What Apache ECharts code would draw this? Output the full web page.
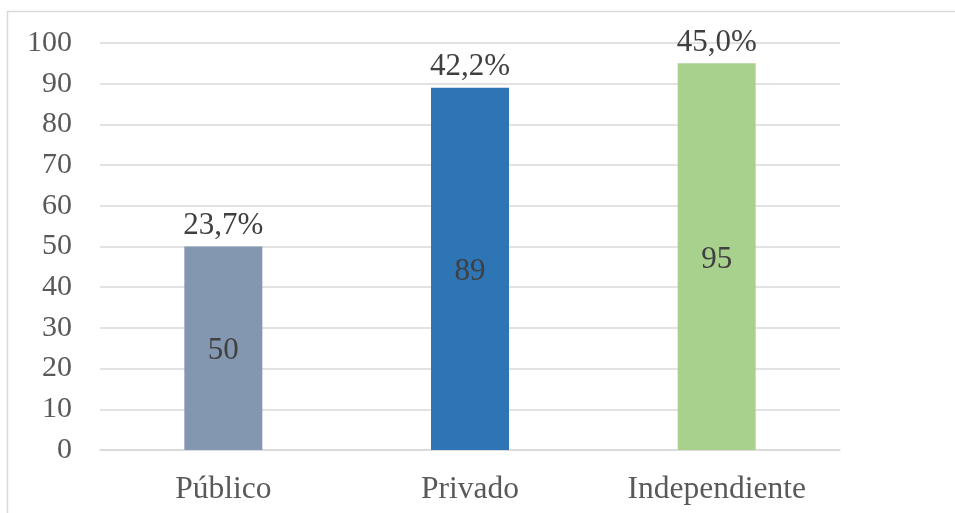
<!DOCTYPE html>
<html>
<head>
<meta charset="utf-8">
<script src="https://cdn.jsdelivr.net/npm/echarts@6/dist/echarts.min.js"></script>
<style>
  html, body { margin: 0; padding: 0; background: #ffffff; }
  #chart { width: 955px; height: 513px; }
</style>
</head>
<body>
<div id="chart"></div>
<script>
// Counts per sector and the share each one represents
const categories = ['Público', 'Privado', 'Independiente'];
const counts = [50, 89, 95];
const shares = ['23,7%', '42,2%', '45,0%'];
const barColors = ['#8497B0', '#2E75B6', '#A9D18E'];

const FONT = '"Liberation Serif", "Times New Roman", serif';

const chart = echarts.init(document.getElementById('chart'));

chart.setOption({
  animation: false,
  backgroundColor: '#ffffff',
  graphic: [{
    type: 'rect',
    silent: true,
    shape: { x: 7.5, y: 11.5, width: 1000, height: 600 },
    style: { fill: 'none', stroke: '#D9D9D9', lineWidth: 1.5 }
  }],
  grid: { left: 100, right: 115, top: 43, bottom: 63, containLabel: false },
  xAxis: {
    type: 'category',
    data: categories,
    axisLine: { show: true, lineStyle: { color: '#D9D9D9', width: 1.5 } },
    axisTick: { show: false },
    axisLabel: { color: '#595959', fontFamily: FONT, fontSize: 31.5, margin: 24 }
  },
  yAxis: {
    type: 'value',
    min: 0,
    max: 100,
    interval: 10,
    axisLine: { show: false },
    axisTick: { show: false },
    splitLine: { lineStyle: { color: '#D9D9D9', width: 1.5 } },
    axisLabel: { color: '#595959', fontFamily: FONT, fontSize: 30, margin: 28 }
  },
  series: [
    {
      type: 'bar',
      barWidth: 78,
      data: counts.map((v, i) => ({ value: v, itemStyle: { color: barColors[i] } })),
      label: {
        show: true,
        position: 'inside',
        offset: [0, 3],
        color: '#404040',
        fontFamily: FONT,
        fontSize: 31,
        formatter: p => String(p.value)
      }
    },
    {
      // share labels sitting on top of each bar
      type: 'bar',
      barGap: '-100%',
      barWidth: 78,
      data: counts,
      itemStyle: { color: 'transparent' },
      silent: true,
      label: {
        show: true,
        position: 'top',
        distance: 5,
        color: '#404040',
        fontFamily: FONT,
        fontSize: 31,
        formatter: p => shares[p.dataIndex]
      },
      z: 3
    }
  ]
});
</script>
</body>
</html>
